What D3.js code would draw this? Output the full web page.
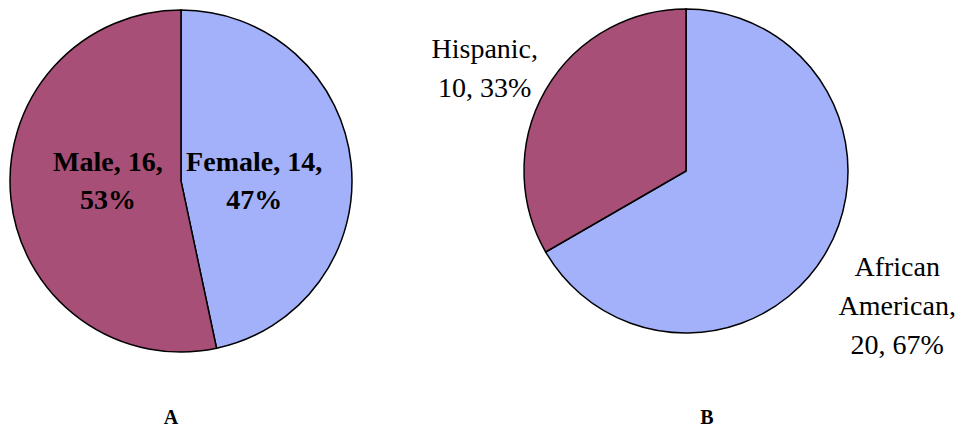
<!DOCTYPE html>
<html>
<head>
<meta charset="utf-8">
<script src="https://cdn.jsdelivr.net/npm/d3@7"></script>
<style>
  html, body { margin: 0; padding: 0; background: #fff; }
  svg { display: block; }
  svg text { font-family: "Liberation Serif", "Times New Roman", "DejaVu Serif", serif; }
</style>
</head>
<body>
<svg id="chart" width="956" height="429"></svg>
<script>
// ---- data ----
const genderCategories = ["Female", "Male"];
const genderValues = [14, 16];
const ethnicityCategories = ["African American", "Hispanic"];
const ethnicityValues = [20, 10];
const panelTitles = ["A", "B"];

// ---- styles ----
const sliceColors = ["#a3b1fa", "#a84f78"];

const svg = d3.select("#chart");

function labelLines(name, value, pct, wrapName) {
  const lines = wrapName ? name.split(" ") : [name];
  const full = lines.slice();
  full[full.length - 1] += ",";
  if (wrapName) {
    full.push(value + ", " + pct + "%");
  } else {
    full[full.length - 1] += " " + value + ",";
    full.push(pct + "%");
  }
  return full;
}

function drawPie(cfg) {
  const total = d3.sum(cfg.values);
  const data = cfg.categories.map((c, i) => ({ name: c, value: cfg.values[i] }));
  const pie = d3.pie().sort(null).value(d => d.value);
  const arcs = pie(data);
  const arc = d3.arc().innerRadius(0).outerRadius(cfg.r);

  const g = svg.append("g").attr("transform", `translate(${cfg.cx},${cfg.cy})`);
  g.selectAll("path.slice").data(arcs).join("path")
    .attr("class", "slice")
    .attr("d", arc)
    .attr("fill", (d, i) => sliceColors[i])
    .attr("stroke", "#000")
    .attr("stroke-width", 1.5)
    .attr("stroke-linejoin", "miter");

  const labelArc = d3.arc().innerRadius(cfg.r * cfg.labelFactor).outerRadius(cfg.r * cfg.labelFactor);
  const lh = cfg.lineHeight;
  arcs.forEach(a => {
    const pct = Math.round(a.data.value / total * 100);
    const lines = labelLines(a.data.name, a.data.value, pct, cfg.wrap);
    let [x, y] = labelArc.centroid(a);
    if (cfg.flatY) y = 0;
    x += cfg.labelDx; y += cfg.labelDy;
    const n = lines.length;
    const t = g.append("text")
      .attr("text-anchor", "middle")
      .attr("font-size", cfg.fontSize)
      .attr("font-weight", cfg.bold ? "bold" : "normal")
      .attr("fill", "#000");
    lines.forEach((ln, i) => {
      t.append("tspan")
        .attr("x", x)
        .attr("y", y + (i - (n - 1) / 2) * lh + cfg.fontSize * 0.33)
        .text(ln);
    });
  });

  svg.append("text")
    .attr("x", cfg.titleX)
    .attr("y", 424)
    .attr("text-anchor", "middle")
    .attr("font-size", 20)
    .attr("font-weight", "bold")
    .text(cfg.title);
}

drawPie({
  categories: genderCategories, values: genderValues,
  cx: 181, cy: 181, r: 171,
  labelFactor: 0.43, flatY: true, wrap: false, bold: true,
  labelDx: 0, labelDy: 0,
  fontSize: 28, lineHeight: 38,
  title: panelTitles[0], titleX: 171
});

drawPie({
  categories: ethnicityCategories, values: ethnicityValues,
  cx: 686, cy: 171, r: 162,
  labelFactor: 1.47, flatY: false, wrap: true, bold: false,
  labelDx: 5, labelDy: 16,
  fontSize: 28, lineHeight: 39,
  title: panelTitles[1], titleX: 707
});
</script>
</body>
</html>
